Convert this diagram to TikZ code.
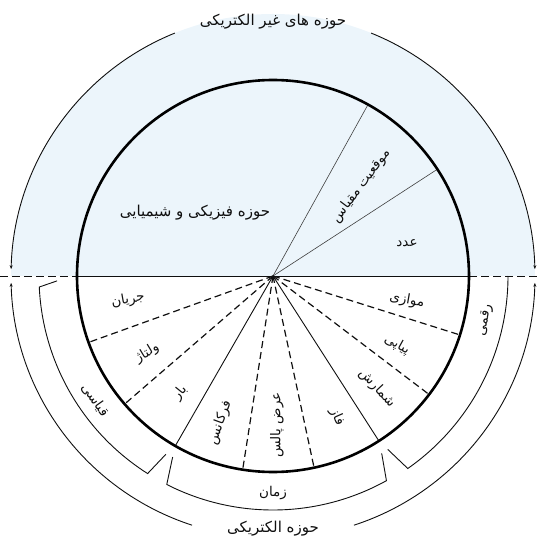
\documentclass[tikz,border=0pt]{standalone}
\usepackage{fontspec}
\usetikzlibrary{arrows.meta}
\TeXXeTstate=1
\newfontfamily\fafont[Script=Arabic]{DejaVu Sans}
\newcommand\faT[1]{{\fafont\beginR #1\endR}}
\definecolor{skyfill}{RGB}{236,245,251}
\definecolor{inkc}{RGB}{15,15,15}
\begin{document}
\begin{tikzpicture}[x=1pt,y=1pt,
  lbl/.style={font=\fontsize{13.5}{15}\selectfont, text=inkc, inner sep=1pt},
  ttl/.style={font=\fontsize{15}{17}\selectfont, text=inkc, inner sep=1pt},
  raysolid/.style={draw=inkc, line width=0.9pt},
  raydash/.style={draw=inkc, line width=1.2pt, dash pattern=on 7pt off 4pt},
  upray/.style={draw=inkc!80, line width=0.6pt},
  brk/.style={draw=inkc, line width=0.9pt},
  outerc/.style={draw=inkc, line width=0.9pt},
  tipend/.style={-{Stealth[length=4pt,width=3pt]}},
  mainc/.style={draw=black, line width=2.6pt}]
\useasboundingbox (-273,-267) rectangle (264,276);
\coordinate (c) at (0,0);
% blue upper half
\fill[skyfill] (-262,0) arc[start angle=180,end angle=0,radius=262] -- cycle;
% horizontal line
\coordinate (hl) at (-273,0);
\coordinate (hr) at (264,0);
\coordinate (ml) at (-196,0);
\coordinate (mr) at (196,0);
\draw[draw=inkc, line width=0.9pt, dash pattern=on 8pt off 4pt] (hl) -- (ml);
\draw[draw=inkc, line width=0.9pt, dash pattern=on 8pt off 4pt] (hr) -- (mr);
\draw[draw=inkc, line width=0.9pt] (ml) -- (mr);
% upper rays
\coordinate (u1) at (61:196);
\coordinate (u2) at (33:196);
\draw[upray] (c) -- (u1);
\draw[upray] (c) -- (u2);
% lower rays
\foreach \a/\s [count=\i] in {199.8/raydash,220.8/raydash,240.1/raysolid,261.1/raydash,282.1/raydash,302.7/raysolid,322.8/raydash,342.5/raydash}{
  \coordinate (ray\i) at (\a:196);
  \draw[\s] (c) -- (ray\i);
}
% main circle
\node[mainc, circle, minimum size=392pt, inner sep=0pt] (main) at (c) {};
% outer circle arcs
\draw[outerc, tipend] (112:262) arc[start angle=112,end angle=178.5,radius=262];
\draw[outerc, tipend] (68:262) arc[start angle=68,end angle=1.5,radius=262];
\draw[outerc, tipend] (252:262) arc[start angle=252,end angle=181.5,radius=262];
\draw[outerc, tipend] (288:262) arc[start angle=288,end angle=358.5,radius=262];
% brackets
\draw[brk] (181.3:216) -- (182.7:234) arc[start angle=182.7,end angle=237.6,radius=234] -- (239:208);
\draw[brk] (241:207) -- (243:234) arc[start angle=243,end angle=299,radius=234] -- (301.5:208);
\draw[brk] (303.5:208) -- (305:235) arc[start angle=305,end angle=360,radius=235];
% titles
\node[ttl] (t1) at (0,254) {\faT{حوزه های غیر الکتریکی}};
\node[ttl] (t2) at (0,-253) {\faT{حوزه الکتریکی}};
% upper labels
\node[ttl] (phys) at (-78,63) {\faT{حوزه فیزیکی و شیمیایی}};
\node[lbl, rotate=53] (scale) at (88,90) {\faT{موقعیت مقیاس}};
\node[lbl] (num) at (134,33) {\faT{عدد}};
% lower labels
\node[lbl, rotate=10] (cur) at (-145,-24) {\faT{جریان}};
\node[lbl, rotate=31] (volt) at (-126,-77) {\faT{ولتاژ}};
\node[lbl, rotate=51] (chg) at (-93,-117) {\faT{بار}};
\node[lbl, rotate=70] (freq) at (-53,-147) {\faT{فرکانس}};
\node[lbl, rotate=90] (pw) at (4,-149) {\faT{عرض پالس}};
\node[lbl, rotate=-66] (ph) at (64,-141) {\faT{فاز}};
\node[lbl, rotate=-47] (cnt) at (104,-112) {\faT{شمارش}};
\node[lbl, rotate=-29] (ser) at (124,-69) {\faT{پیاپی}};
\node[lbl, rotate=-10] (par) at (134,-24) {\faT{موازی}};
% band labels
\node[lbl, rotate=-55] (ana) at (-178,-124) {\faT{قیاسی}};
\node[lbl] (time) at (0,-217) {\faT{زمان}};
\node[lbl, rotate=78] (dig) at (212,-44) {\faT{رقمی}};
\end{tikzpicture}
\end{document}
